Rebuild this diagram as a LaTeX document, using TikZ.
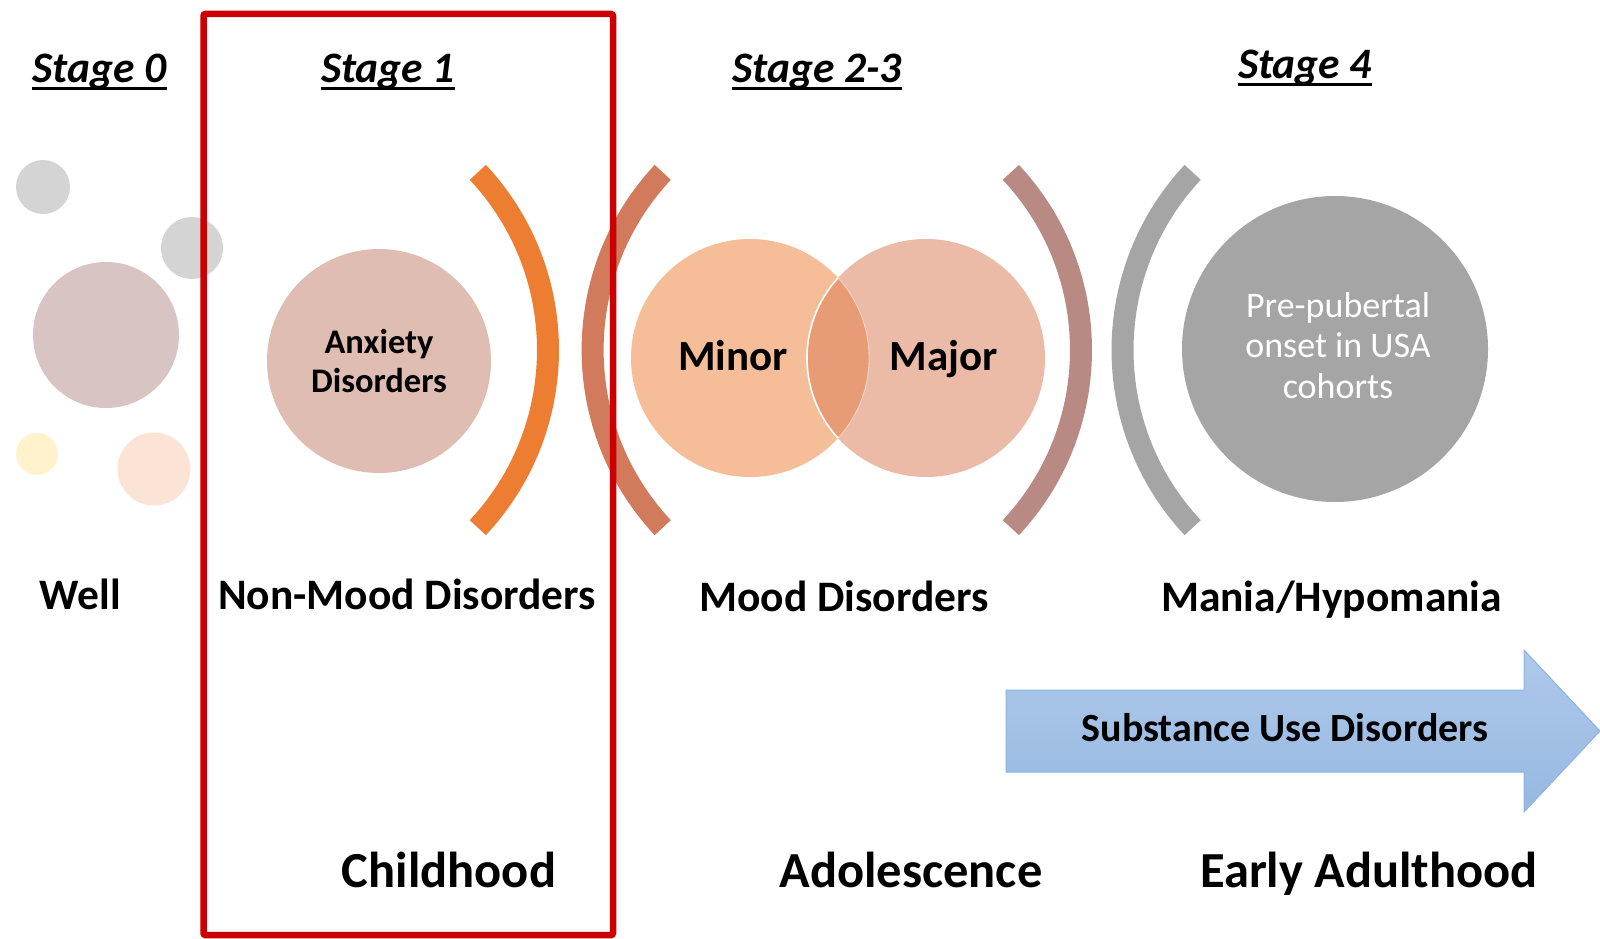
\documentclass[tikz,border=0pt]{standalone}
\usepackage{fontspec}
\setmainfont{Carlito}
\definecolor{dotgray}{HTML}{D4D4D4}
\definecolor{dotmauve}{HTML}{D9C4C4}
\definecolor{dotyellow}{HTML}{FFF2CC}
\definecolor{dotpeach}{HTML}{FBE4D5}
\definecolor{anxfill}{HTML}{E0BDB3}
\definecolor{arcorange}{HTML}{ED7D31}
\definecolor{arcsalmon}{HTML}{D17A5C}
\definecolor{minorfill}{HTML}{F6BE98}
\definecolor{majorfill}{HTML}{ECBBA8}
\definecolor{lensfill}{HTML}{E79C76}
\definecolor{arcmauve}{HTML}{B98983}
\definecolor{midgray}{HTML}{A5A5A5}
\definecolor{bluetop}{HTML}{AEC9EA}
\definecolor{bluebot}{HTML}{97B8E2}
\definecolor{blueedge}{HTML}{8EB3E0}
\definecolor{boxred}{HTML}{CC0000}
\begin{document}
\begin{tikzpicture}[x=1pt,y=-1pt,
  dot/.style={circle, inner sep=0pt, draw=none},
  bracket/.style={line width=22pt, line cap=butt},
  stagelbl/.style={font=\fontsize{43.5}{50}\selectfont\bfseries\itshape, anchor=base, inner sep=0pt},
  ulinestyle/.style={line width=3pt},
  rowlbl/.style={font=\fontsize{43.5}{50}\selectfont\bfseries, anchor=base, inner sep=0pt},
  agelbl/.style={font=\fontsize{50.5}{60}\selectfont\bfseries, anchor=base, inner sep=0pt},
  vennlbl/.style={font=\fontsize{43}{50}\selectfont\bfseries, anchor=base, inner sep=0pt}
]
\useasboundingbox (0,0) rectangle (1600,939);
\fill[white] (0,0) rectangle (1600,939);

% stage titles
\node[stagelbl] (s0) at (99.5,83) {Stage 0};
\node[stagelbl] (s1) at (388,83) {Stage 1};
\node[stagelbl] (s23) at (817,83) {Stage 2-3};
\node[stagelbl] (s4) at (1305,79) {Stage 4};
\foreach \n in {s0,s1,s23,s4}{
  \draw[ulinestyle] ([yshift=-6pt]\n.base west) -- ([yshift=-6pt]\n.base east);
}

% stage 0 dots
\node[dot, fill=dotgray, minimum size=54pt] (g1) at (43,187) {};
\node[dot, fill=dotgray, minimum size=62pt] (g2) at (192,248) {};
\node[dot, fill=dotmauve, minimum size=146pt] (wm) at (106,335) {};
\node[dot, fill=dotyellow, minimum size=42pt] (wy) at (37,454) {};
\node[dot, fill=dotpeach, minimum size=73pt] (wp) at (154,469) {};

% stage 1
\node[dot, fill=anxfill, minimum size=224pt, align=center,
  font=\fontsize{34.5}{39}\selectfont\bfseries] (anx) at (379,361) {Anxiety\\Disorders};
\draw[bracket, arcorange] (288,350) ++(-43.1:260) arc[start angle=-43.1, end angle=43.1, radius=260];

% stage 2-3
\draw[bracket, arcsalmon] (852.6,350) ++(-136.9:260) arc[start angle=-136.9, end angle=-223.1, radius=260];
\node[dot, fill=minorfill, minimum size=238pt] (minor) at (750,358) {};
\node[dot, fill=majorfill, minimum size=238pt] (major) at (926,358) {};
\begin{scope}
  \clip (750,358) circle[radius=119];
  \fill[lensfill] (926,358) circle[radius=119];
  \draw[white, line width=1.6pt] (926,358) circle[radius=119];
\end{scope}
\begin{scope}
  \clip (926,358) circle[radius=119];
  \draw[white, line width=0.8pt, opacity=0.5] (750,358) circle[radius=119];
\end{scope}
\node[vennlbl] (minorlbl) at (733,370) {Minor};
\node[vennlbl] (majorlbl) at (944,370) {Major};
\draw[bracket, arcmauve] (821,350) ++(-43.1:260) arc[start angle=-43.1, end angle=43.1, radius=260];

% stage 4
\draw[bracket, midgray] (1382.5,350) ++(-136.9:260) arc[start angle=-136.9, end angle=-223.1, radius=260];
\node[dot, fill=midgray, minimum size=306pt] (pre) at (1335,349) {};
\node[anchor=base, inner sep=0pt, align=center, text=white,
  font=\fontsize{36}{40.5}\selectfont] (pretxt) at (1338,398) {Pre-pubertal\\onset in USA\\cohorts};

% row labels
\node[rowlbl] (well) at (80.5,609) {Well};
\node[rowlbl] (nonmood) at (407,609) {Non-Mood Disorders};
\node[rowlbl] (mood) at (844,611) {Mood Disorders};
\node[rowlbl] (mania) at (1331.5,611) {Mania/Hypomania};

% substance arrow
\draw[blueedge, line width=1pt, top color=bluetop, bottom color=bluebot]
  (1006,690) -- (1524,690) -- (1524,650) -- (1600,731) -- (1524,812) -- (1524,772) -- (1006,772) -- cycle;
\node[font=\fontsize{40}{46}\selectfont\bfseries, anchor=base, inner sep=0pt] (sud) at (1285,741) {Substance Use Disorders};

% age labels
\node[agelbl] (child) at (449,887) {Childhood};
\node[agelbl] (adol) at (911,887) {Adolescence};
\node[agelbl] (adult) at (1369,887) {Early Adulthood};

% highlight box
\draw[boxred, line width=6.5pt, rounded corners=2pt] (203.5,14) rectangle (613,935);
\end{tikzpicture}
\end{document}
